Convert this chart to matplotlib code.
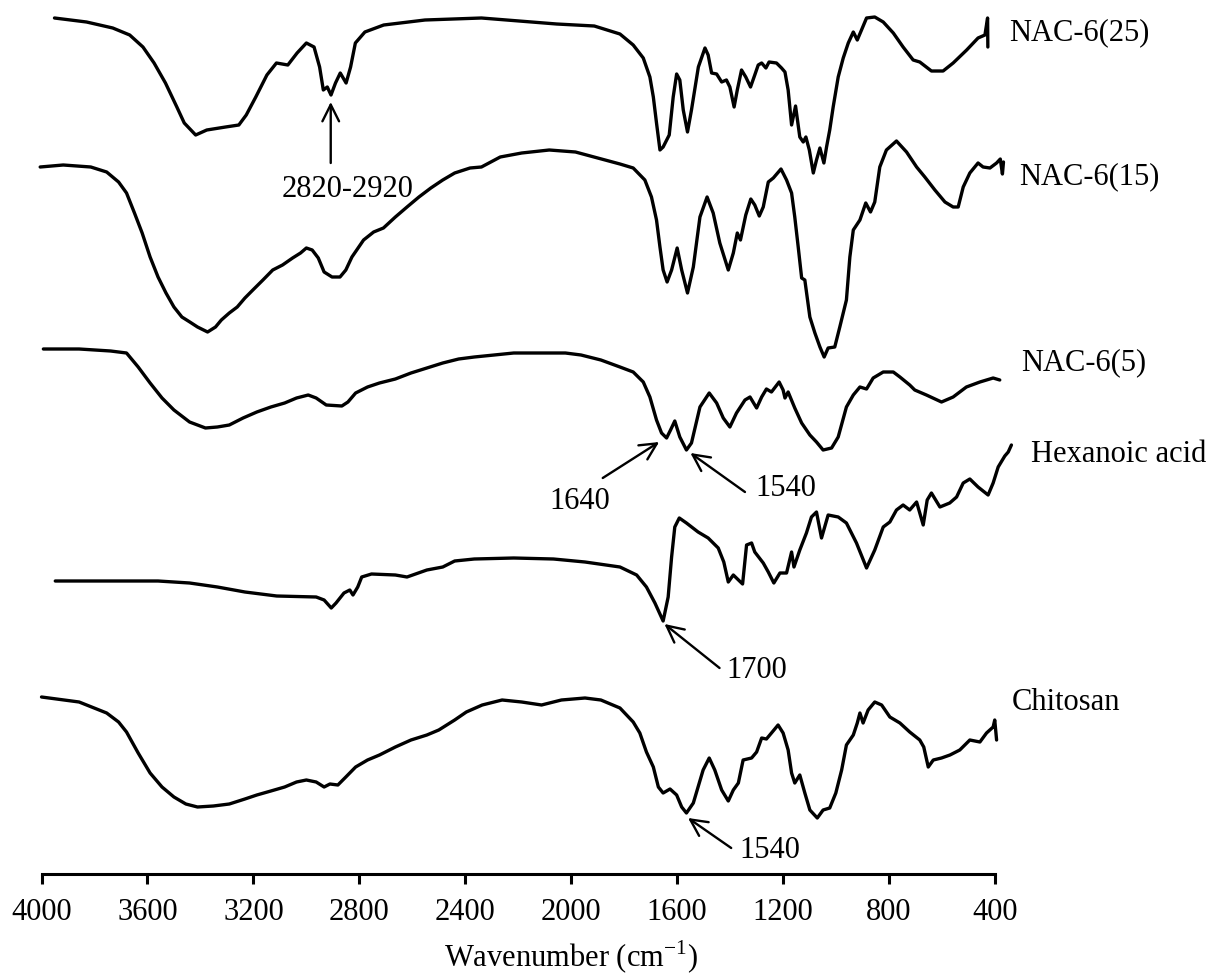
import matplotlib
matplotlib.use("Agg")
import matplotlib.pyplot as plt

plt.rcParams['font.family'] = ['Liberation Serif', 'DejaVu Serif']
plt.rcParams['mathtext.fontset'] = 'custom'
plt.rcParams['mathtext.rm'] = 'Liberation Serif'

# FTIR spectra, transmittance in arbitrary (offset) units
nac25_wn = [3951, 3830, 3731, 3667, 3617, 3575, 3532, 3489, 3461, 3418,
            3376, 3305, 3255, 3227, 3191, 3149, 3113, 3070, 3035, 3000,
            2971, 2950, 2936, 2921, 2907, 2890, 2872, 2850, 2833, 2815,
            2779, 2708, 2552, 2339, 2197, 2055, 1913, 1816, 1766, 1728,
            1703, 1690, 1678, 1665, 1653, 1630, 1615, 1602, 1590, 1577,
            1561, 1546, 1520, 1495, 1483, 1470, 1451, 1432, 1414, 1401,
            1385, 1373, 1357, 1341, 1323, 1307, 1294, 1281, 1265, 1253,
            1225, 1206, 1193, 1181, 1168, 1153, 1137, 1124, 1114, 1101,
            1086, 1074, 1061, 1046, 1036, 1024, 1011, 992, 973, 954,
            935, 920, 904, 885, 854, 822, 784, 747, 709, 684,
            640, 596, 558, 507, 464, 438, 428, 427]
nac25_t = [856, 852, 846, 839, 827, 811, 791, 767, 751, 739,
           744, 747, 749, 759, 777, 799, 811, 809, 821, 831,
           827, 807, 784, 787, 779, 791, 801, 791, 807, 831,
           842, 849, 854, 856, 853, 850, 848, 840, 829, 816,
           797, 777, 751, 724, 727, 739, 777, 800, 794, 764,
           742, 764, 807, 826, 819, 801, 800, 792, 794, 787,
           767, 784, 804, 797, 787, 799, 809, 811, 806, 812,
           811, 806, 802, 784, 749, 768, 737, 732, 737, 724,
           701, 714, 726, 711, 727, 744, 767, 797, 816, 831,
           842, 834, 844, 856, 857, 852, 841, 827, 814, 812,
           803, 803, 811, 824, 836, 839, 856, 827]

nac15_wn = [4005, 3918, 3814, 3754, 3709, 3679, 3649, 3620, 3590, 3560,
            3530, 3500, 3470, 3440, 3411, 3373, 3343, 3321, 3291, 3261,
            3232, 3202, 3164, 3127, 3090, 3052, 3022, 3000, 2978, 2955,
            2933, 2903, 2873, 2851, 2828, 2784, 2746, 2709, 2664, 2620,
            2575, 2530, 2485, 2440, 2382, 2339, 2268, 2187, 2083, 1984,
            1816, 1766, 1722, 1697, 1678, 1665, 1653, 1638, 1621, 1600,
            1583, 1561, 1539, 1514, 1487, 1464, 1439, 1407, 1388, 1373,
            1361, 1341, 1322, 1307, 1290, 1275, 1256, 1237, 1208, 1187,
            1168, 1156, 1143, 1130, 1118, 1099, 1080, 1061, 1045, 1030,
            1005, 986, 961, 948, 935, 910, 888, 870, 854, 835,
            810, 772, 734, 696, 665, 627, 589, 558, 539, 520,
            495, 464, 445, 419, 394, 380, 372, 368]
nac15_t = [707, 709, 707, 702, 692, 681, 661, 641, 617, 597,
           581, 567, 557, 552, 547, 542, 547, 554, 561, 567,
           576, 584, 594, 604, 609, 616, 621, 626, 624, 616,
           602, 597, 597, 604, 617, 634, 642, 646, 657, 667,
           677, 686, 694, 701, 706, 707, 717, 721, 724, 722,
           710, 706, 694, 677, 654, 627, 604, 592, 604, 626,
           604, 581, 607, 657, 677, 661, 631, 604, 621, 641,
           634, 659, 675, 669, 658, 667, 692, 696, 705, 694,
           681, 657, 627, 596, 594, 557, 541, 527, 517, 526,
           527, 547, 574, 617, 644, 654, 671, 662, 672, 707,
           724, 733, 722, 707, 697, 684, 672, 667, 667, 687,
           701, 711, 707, 706, 711, 715, 700, 712]

nac5_wn = [3993, 3858, 3739, 3679, 3635, 3590, 3545, 3500, 3441, 3381,
           3336, 3291, 3239, 3187, 3134, 3082, 3037, 2993, 2963, 2925,
           2866, 2843, 2814, 2769, 2724, 2664, 2605, 2545, 2485, 2425,
           2366, 2291, 2217, 2022, 1963, 1888, 1816, 1766, 1728, 1703,
           1678, 1659, 1640, 1625, 1609, 1590, 1565, 1546, 1514, 1479,
           1451, 1426, 1401, 1376, 1344, 1325, 1300, 1281, 1263, 1244,
           1215, 1200, 1193, 1181, 1156, 1130, 1099, 1074, 1049, 1017,
           992, 961, 935, 910, 885, 860, 822, 784, 759, 722,
           703, 659, 602, 558, 508, 457, 407, 382]
nac5_t = [525, 525, 523, 521, 507, 491, 476, 464, 452, 446,
          447, 449, 456, 462, 467, 471, 476, 479, 476, 469,
          468, 472, 481, 487, 491, 495, 501, 506, 511, 515,
          517, 519, 521, 521, 519, 514, 507, 502, 492, 477,
          454, 441, 436, 444, 453, 437, 424, 431, 467, 481,
          471, 456, 447, 461, 474, 477, 466, 477, 485, 482,
          492, 484, 476, 482, 466, 451, 439, 432, 424, 426,
          437, 467, 479, 487, 485, 496, 502, 502, 497, 489,
          484, 479, 472, 477, 487, 492, 496, 494]

hexa_wn = [3948, 3560, 3441, 3336, 3232, 3112, 2963, 2933, 2906, 2888,
           2858, 2836, 2824, 2806, 2791, 2754, 2664, 2620, 2545, 2485,
           2440, 2366, 2217, 2067, 1948, 1816, 1753, 1716, 1684, 1653,
           1634, 1621, 1609, 1592, 1565, 1521, 1483, 1445, 1424, 1407,
           1388, 1353, 1338, 1319, 1307, 1275, 1256, 1235, 1212, 1187,
           1168, 1159, 1137, 1112, 1093, 1074, 1055, 1030, 992, 961,
           923, 885, 854, 822, 797, 772, 747, 722, 696, 671,
           656, 640, 608, 571, 545, 520, 495, 464, 426, 407,
           388, 363, 350, 338]
hexa_t = [293, 293, 291, 287, 282, 278, 277, 274, 266, 271,
          281, 284, 279, 287, 297, 300, 299, 297, 304, 307,
          313, 315, 316, 315, 312, 307, 299, 287, 271, 253,
          277, 317, 347, 356, 351, 342, 336, 326, 312, 292,
          299, 290, 329, 331, 322, 311, 302, 291, 301, 301,
          322, 307, 324, 341, 357, 362, 336, 359, 357, 351,
          331, 306, 324, 347, 352, 364, 369, 364, 372, 349,
          374, 381, 367, 371, 377, 391, 395, 387, 379, 391,
          407, 418, 422, 429]

chito_wn = [4000, 3858, 3754, 3709, 3679, 3635, 3590, 3545, 3500, 3455,
            3411, 3351, 3291, 3232, 3187, 3134, 3082, 3037, 3000, 2963,
            2933, 2911, 2881, 2851, 2814, 2769, 2724, 2664, 2605, 2545,
            2500, 2440, 2396, 2336, 2261, 2187, 2112, 2037, 1948, 1888,
            1816, 1766, 1741, 1716, 1690, 1671, 1653, 1627, 1602, 1583,
            1565, 1539, 1502, 1479, 1458, 1432, 1407, 1388, 1369, 1351,
            1319, 1300, 1281, 1263, 1244, 1219, 1200, 1181, 1168, 1156,
            1137, 1118, 1099, 1071, 1049, 1024, 1001, 979, 961, 935,
            920, 910, 898, 879, 854, 828, 797, 759, 722, 684,
            669, 652, 633, 602, 570, 533, 495, 457, 432, 407,
            401, 394]
chito_t = [177, 172, 161, 152, 142, 121, 101, 87, 77, 70,
           67, 68, 70, 75, 79, 83, 87, 92, 94, 92,
           87, 90, 89, 97, 107, 114, 119, 127, 134, 139,
           144, 154, 162, 169, 174, 172, 169, 174, 176, 174,
           166, 152, 141, 122, 107, 87, 81, 85, 79, 67,
           61, 71, 104, 116, 104, 84, 73, 84, 91, 114,
           116, 122, 136, 135, 141, 149, 141, 124, 101, 91,
           99, 81, 64, 56, 64, 66, 81, 104, 129, 139,
           151, 161, 151, 164, 172, 169, 157, 151, 142, 134,
           127, 107, 114, 116, 119, 124, 134, 132, 141, 147,
           154, 134]

names = ["NAC-6(25)", "NAC-6(15)", "NAC-6(5)", "Hexanoic acid", "Chitosan"]
spectra = [(nac25_wn, nac25_t), (nac15_wn, nac15_t), (nac5_wn, nac5_t),
           (hexa_wn, hexa_t), (chito_wn, chito_t)]
label_pos = [(345, 841), (308, 697), (301, 511), (264, 419), (338, 171)]

# (text, text position, arrow tail, arrow tip)
notes = [("2820-2920", (2843, 684), (2908, 711), (2908, 772)),
         ("1640", (1967, 372), (1881, 396), (1668, 432)),
         ("1540", (1189, 385), (1344, 382), (1550, 421)),
         ("1700", (1298, 203), (1440, 206), (1648, 250)),
         ("1540", (1252, 23), (1396, 26), (1559, 56))]

fig = plt.figure(figsize=(12.15, 9.75), dpi=100)
ax = fig.add_axes([0.03416, 0.10359, 0.78477, 0.89641])

for (wn, t), name, pos in zip(spectra, names, label_pos):
    ax.plot(wn, t, color="black", lw=2.4, clip_on=False,
            solid_joinstyle="round", solid_capstyle="round")
    ax.text(pos[0], pos[1], name, fontsize=22, ha="left", va="center")

for txt, tpos, tail, tip in notes:
    ax.annotate("", xy=tip, xytext=tail,
                arrowprops=dict(arrowstyle="->,head_length=0.6,head_width=0.3",
                                lw=1.7, color="black", mutation_scale=20,
                                shrinkA=0, shrinkB=0))
    ax.text(tpos[0], tpos[1], txt, fontsize=22, ha="center", va="center")

ax.set_xlim(4000, 400)
ax.set_ylim(0, 874)
ax.set_xticks(range(4000, 399, -400))
ax.set_yticks([])
for s in ["left", "right", "top"]:
    ax.spines[s].set_visible(False)
ax.spines["bottom"].set_linewidth(2.2)
ax.tick_params(axis="x", direction="out", length=7, width=2.2, labelsize=22, pad=10)
ax.patch.set_alpha(0)

ax.text(0.555, -0.096, "Wavenumber (cm$^{\\mathrm{-1}}$)", transform=ax.transAxes,
        fontsize=22, ha="center", va="center")

fig.savefig("out.png", dpi=100)
